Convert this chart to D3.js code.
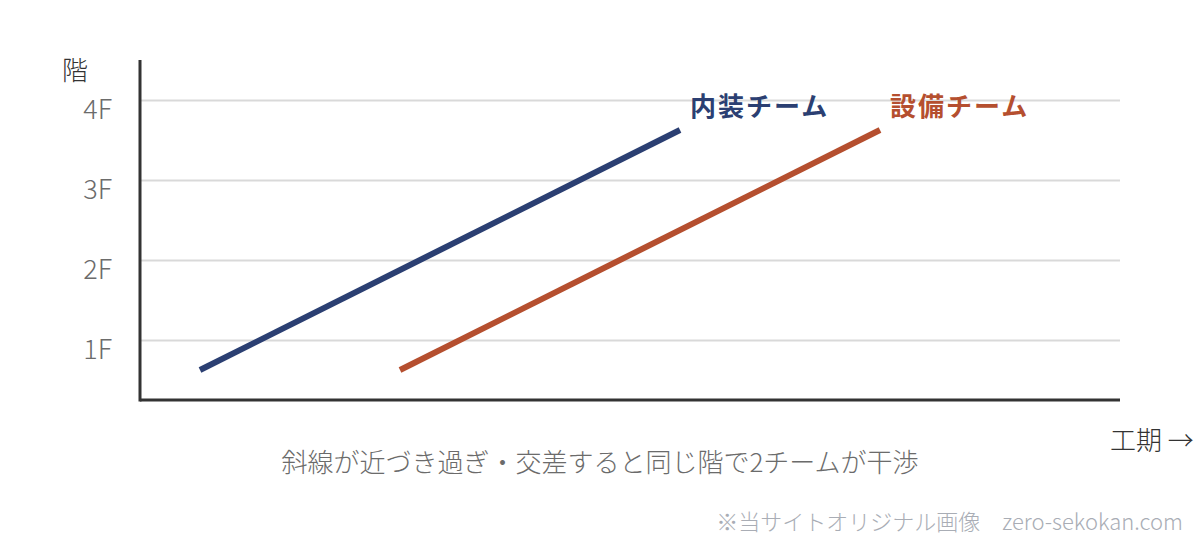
<!DOCTYPE html>
<html><head><meta charset="utf-8">
<script src="https://cdn.jsdelivr.net/npm/d3@7"></script>
<style>body{margin:0;background:#fff}svg{display:block}text{font-family:"Noto Sans CJK JP","Noto Sans",sans-serif}</style>
</head><body><svg id="c" width="1200" height="544"></svg>
<script>
const floorTicks = [1, 2, 3, 4];
const floorLabels = ["1F", "2F", "3F", "4F"];
const teams = ["内装チーム", "設備チーム"];
const teamColors = ["#2b3f72", "#b54f2f"];
const teamStart = [[6, 0.625], [26, 0.625]];
const teamEnd = [[54, 3.625], [74, 3.625]];

const svg = d3.select("#c");
const x = d3.scaleLinear().domain([0, 98]).range([140, 1120]);
const y = d3.scaleLinear().domain([0.25, 4.5]).range([400, 60]);

// gridlines
const grid = d3.axisLeft(y).tickValues(floorTicks).tickSize(-(1120 - 140)).tickFormat("");
svg.append("g").attr("transform", "translate(140,0)").call(grid)
  .call(g => g.select(".domain").remove())
  .call(g => g.selectAll("line").attr("stroke", "#d9d9d9").attr("stroke-width", 2));

// tick labels
const yAx = d3.axisLeft(y).tickValues(floorTicks).tickSize(0).tickPadding(28)
  .tickFormat((d, i) => floorLabels[i]);
svg.append("g").attr("transform", "translate(140,0)").call(yAx)
  .call(g => g.select(".domain").remove())
  .call(g => g.selectAll("text").attr("font-size", 27).attr("fill", "#6b6b6b")
    .attr("font-weight", 300).attr("dy", "0.7em").style("font-family", "'Noto Sans CJK JP'"));

// axes lines
svg.append("line").attr("x1", 140).attr("x2", 140).attr("y1", y(4.5)).attr("y2", y(0.25) + 1.5)
  .attr("stroke", "#333").attr("stroke-width", 3);
svg.append("line").attr("x1", 140).attr("x2", x(98)).attr("y1", y(0.25)).attr("y2", y(0.25))
  .attr("stroke", "#333").attr("stroke-width", 3);

// team lines
teams.forEach((t, i) => {
  svg.append("line")
    .attr("x1", x(teamStart[i][0])).attr("y1", y(teamStart[i][1]))
    .attr("x2", x(teamEnd[i][0])).attr("y2", y(teamEnd[i][1]))
    .attr("stroke", teamColors[i]).attr("stroke-width", 6);
  svg.append("text").attr("x", x(teamEnd[i][0]) + 10).attr("y", 116)
    .attr("font-size", 26).attr("font-weight", 700).attr("fill", teamColors[i])
    .attr("letter-spacing", 2).text(t);
});

svg.append("text").attr("x", 62).attr("y", 80).attr("font-size", 26).attr("fill", "#333")
  .attr("font-weight", 300).text("階");
svg.append("text").attr("x", 1110).attr("y", 450).attr("font-size", 26).attr("fill", "#333")
  .attr("font-weight", 300).text("工期 →");
svg.append("text").attr("x", 600).attr("y", 472).attr("text-anchor", "middle").attr("font-size", 26)
  .attr("fill", "#6b6b6b").attr("font-weight", 300).text("斜線が近づき過ぎ・交差すると同じ階で2チームが干渉");
svg.append("text").attr("x", 1183).attr("y", 530).attr("text-anchor", "end").attr("font-size", 22)
  .attr("fill", "#a9adb5").attr("font-weight", 300).text("※当サイトオリジナル画像　zero-sekokan.com");
</script></body></html>
